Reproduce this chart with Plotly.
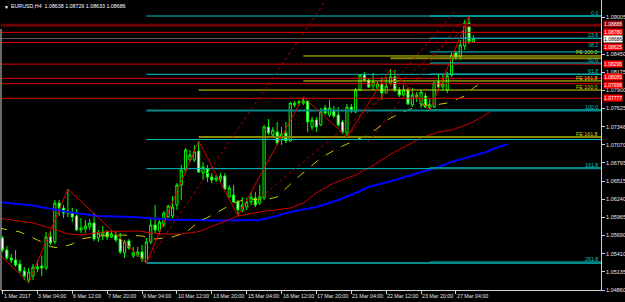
import plotly.graph_objects as go

# ---------------- data (EURUSD H4) ----------------
bars = list(range(109))
opens = [1.05651,1.05469,1.05347,1.05316,1.05255,1.05149,1.05012,1.05073,1.05179,1.05225,
         1.05194,1.05667,1.05591,1.06183,1.06107,1.06062,1.06031,1.05986,1.05773,1.05788,
         1.05818,1.05879,1.05651,1.05697,1.05743,1.05667,1.05697,1.05636,1.05423,1.05606,
         1.05378,1.05393,1.05439,1.05286,1.05591,1.05849,1.05758,1.05849,1.05971,1.05986,
         1.06153,1.06457,1.06685,1.06838,1.06838,1.06975,1.06639,1.06700,1.06579,1.06533,
         1.06548,1.06594,1.06275,1.06305,1.06199,1.06077,1.06122,1.06199,1.06259,1.06183,
         1.06259,1.07340,1.07218,1.07264,1.07142,1.07248,1.07127,1.07674,1.07704,1.07704,
         1.07735,1.07340,1.07446,1.07370,1.07629,1.07522,1.07598,1.07522,1.07416,1.07248,
         1.07644,1.07568,1.07902,1.08131,1.08055,1.07963,1.07933,1.07994,1.07856,1.08010,
         1.08101,1.07902,1.07826,1.07902,1.07674,1.07826,1.07689,1.07811,1.07629,1.07644,
         1.08025,1.07948,1.07902,1.08131,1.08466,1.08405,1.08572,1.08921,1.08638]
highs = [1.05682,1.05530,1.05408,1.05469,1.05316,1.05210,1.05194,1.05255,1.05316,1.05378,
         1.05743,1.05773,1.06229,1.06229,1.06153,1.06396,1.06107,1.06092,1.05955,1.05925,
         1.05940,1.06031,1.05773,1.05834,1.05773,1.05773,1.05743,1.05727,1.05621,1.05636,
         1.05514,1.05514,1.05545,1.05651,1.05940,1.06153,1.05925,1.06062,1.06153,1.06290,
         1.06487,1.06761,1.07020,1.06990,1.07066,1.07127,1.06808,1.06761,1.06639,1.06609,
         1.06639,1.06639,1.06457,1.06457,1.06229,1.06275,1.06259,1.06351,1.06351,1.06457,
         1.07370,1.07461,1.07340,1.07416,1.07340,1.07416,1.07720,1.07735,1.07750,1.07796,
         1.07750,1.07492,1.07492,1.07629,1.07674,1.07750,1.07659,1.07644,1.07446,1.07689,
         1.07689,1.07933,1.08146,1.08177,1.08086,1.08161,1.08025,1.08101,1.08101,1.08223,
         1.08207,1.07948,1.07979,1.07933,1.07933,1.07872,1.07902,1.07856,1.07765,1.08025,
         1.08131,1.08131,1.08177,1.08466,1.08496,1.08663,1.08967,1.09028,1.08729]
lows = [1.05439,1.05316,1.05270,1.05210,1.05118,1.05012,1.04966,1.05012,1.05134,1.05073,
        1.05164,1.05545,1.05560,1.05986,1.05955,1.05971,1.05895,1.05758,1.05727,1.05727,
        1.05773,1.05606,1.05591,1.05621,1.05621,1.05651,1.05591,1.05408,1.05347,1.05469,
        1.05347,1.05362,1.05286,1.05270,1.05560,1.05727,1.05712,1.05818,1.05955,1.05955,
        1.06077,1.06229,1.06639,1.06808,1.06808,1.06639,1.06533,1.06503,1.06487,1.06503,
        1.06487,1.06381,1.06259,1.06183,1.05986,1.06047,1.06077,1.06153,1.06122,1.06153,
        1.06229,1.07218,1.07188,1.07066,1.07066,1.07096,1.07112,1.07644,1.07659,1.07674,
        1.07264,1.07294,1.07264,1.07355,1.07522,1.07492,1.07477,1.07340,1.07233,1.07188,
        1.07553,1.07553,1.07887,1.08025,1.07933,1.07902,1.07902,1.07750,1.07841,1.07979,
        1.07872,1.07796,1.07796,1.07674,1.07644,1.07720,1.07629,1.07629,1.07598,1.07629,
        1.07902,1.07902,1.07856,1.08101,1.08359,1.08359,1.08511,1.08602,1.08633]
closes = [1.05469,1.05347,1.05316,1.05240,1.05149,1.05073,1.05134,1.05210,1.05210,1.05194,
          1.05667,1.05575,1.06183,1.06107,1.06031,1.06031,1.05971,1.05773,1.05803,1.05834,
          1.05879,1.05636,1.05727,1.05743,1.05667,1.05712,1.05621,1.05439,1.05591,1.05499,
          1.05423,1.05439,1.05332,1.05591,1.05849,1.05773,1.05895,1.06031,1.06138,1.06122,
          1.06457,1.06685,1.06990,1.06914,1.06960,1.06655,1.06731,1.06579,1.06533,1.06564,
          1.06594,1.06396,1.06411,1.06199,1.06077,1.06153,1.06199,1.06275,1.06153,1.06275,
          1.07340,1.07248,1.07294,1.07096,1.07233,1.07127,1.07704,1.07704,1.07720,1.07735,
          1.07416,1.07446,1.07340,1.07568,1.07553,1.07629,1.07507,1.07370,1.07264,1.07644,
          1.07583,1.07902,1.08131,1.08055,1.07948,1.08025,1.07994,1.07856,1.07963,1.08101,
          1.07902,1.07826,1.07902,1.07689,1.07826,1.07796,1.07872,1.07644,1.07674,1.08010,
          1.07948,1.07994,1.08116,1.08435,1.08405,1.08587,1.08922,1.08640,1.08686]

# x-axis time labels (every 8 bars)
xtick_idx = [0, 8, 16, 24, 32, 40, 48, 56, 64, 72, 80, 88, 96, 104]
xtick_text = ["1 Mar 2017", "3 Mar 04:00", "6 Mar 12:00", "7 Mar 20:00", "9 Mar 04:00",
              "10 Mar 12:00", "13 Mar 20:00", "15 Mar 04:00", "16 Mar 12:00", "17 Mar 20:00",
              "21 Mar 04:00", "22 Mar 12:00", "23 Mar 20:00", "27 Mar 04:00"]
# visible price-scale labels (1.08730 is hidden under the price tags in the reference)
ytick_vals = [1.09005, 1.08450, 1.08175, 1.07900, 1.07625, 1.07346, 1.07070,
              1.06795, 1.06515, 1.06240, 1.05965, 1.05690, 1.05410, 1.05135, 1.04860]

# moving averages (shifted forward, alligator-like)
blue_x = [-1, 7, 15, 22, 30, 38, 50, 59, 62, 66, 72, 77, 81, 84, 90, 96, 100, 103, 107, 111, 113, 116]
blue_y = [1.06199, 1.06145, 1.06047, 1.05986, 1.05971, 1.05933, 1.05917, 1.05925, 1.05971, 1.06047,
          1.06122, 1.06229, 1.06336, 1.06427, 1.06533, 1.06655, 1.06731, 1.06808, 1.06884, 1.06960,
          1.07020, 1.07081]
red_x = [-1, 7, 11, 15, 18, 24, 31, 36, 41, 45, 54, 59, 66, 69, 72, 76, 81, 84, 90, 96, 100, 103, 107, 110, 112]
red_y = [1.05955, 1.05879, 1.05803, 1.05712, 1.05697, 1.05750, 1.05758, 1.05712, 1.05712, 1.05748,
         1.05986, 1.06047, 1.06107, 1.06183, 1.06336, 1.06487, 1.06609, 1.06716, 1.06960, 1.07173,
         1.07264, 1.07294, 1.07386, 1.07492, 1.07583]
yel_x = [-1, 4, 8, 11, 13, 16, 18, 22, 27, 32, 35, 39, 42, 45, 49, 53, 56, 60, 63, 67, 70, 73, 77,
         81, 84, 89, 93, 96, 99, 102, 106, 108, 110]
yel_y = [1.05803, 1.05743, 1.05621, 1.05519, 1.05499, 1.05560, 1.05636, 1.05682, 1.05697, 1.05682,
         1.05636, 1.05667, 1.05733, 1.05895, 1.06031, 1.06183, 1.06244, 1.06229, 1.06275, 1.06533,
         1.06700, 1.06868, 1.07020, 1.07142, 1.07218, 1.07477, 1.07598, 1.07674, 1.07674, 1.07704,
         1.07811, 1.07933, 1.08025]

# zigzag pivots
zz_x = [-1, 6, 15, 33, 45, 54, 69, 79, 89, 98, 107]
zz_y = [1.05423, 1.04966, 1.06396, 1.05270, 1.07127, 1.05986, 1.07796, 1.07188, 1.08223, 1.07598, 1.09028]

# dotted trend lines (start/end bar, start/end price)
dot_lines = [((33, 75), (1.05270, 1.09348)),
             ((54, 107), (1.05986, 1.08891)),
             ((79, 104), (1.07188, 1.09119)),
             ((84, 105), (1.07112, 1.08937))]

# horizontal support / resistance lines and their price-label nudges (px)
sr_prices = [1.08888, 1.08780, 1.08625, 1.08296, 1.08080, 1.07998, 1.07777]
sr_label_shift = [1, 0, -4, 0, 1, -1, 0]
bid_price = 1.08686

# Fibonacci retracements
fib_long_start = 33
fib_long_levels = [1.09028, 1.08141, 1.07592, 1.07149, 1.06706, 1.05270]
fib_short_start = 98
fib_short_levels = [1.09028, 1.08691, 1.08482, 1.08313, 1.08144, 1.07598, 1.06714, 1.05284]
fib_short_text = ["0.0", "23.6", "38.2", "50.0", "61.8", "100.0", "161.8", "261.8"]
fib_label_shift = [-2, -2, 2, -2, -2, -2, -2, -2]

# Fibonacci expansions
fe_prices = [1.08420, 1.08385, 1.08040, 1.07902, 1.07188]
fe_start = [69, 89, 69, 45, 45]
fe_text = ["FE 100.0", "", "FE 161.8", "FE 100.0", "FE 161.8"]
fe_bright = [True, False, True, True, False]
fe_label_shift = [-1, 0, -2, -2, -2]

title_text = "EURUSD,H4  1.08638 1.08729 1.08633 1.08686"

# ---------------- figure ----------------
X_LEFT, X_RIGHT = -0.344, 137.27
Y_BOTTOM, Y_TOP = 1.04860, 1.092715
FONT = "Liberation Sans"
CYAN = "#00C4C4"
TEAL = "#008A8A"
YEL = "#D8D800"
OLIVE = "#8A8A00"

fig = go.Figure()

fig.add_trace(go.Candlestick(
    x=bars, open=opens, high=highs, low=lows, close=closes,
    increasing=dict(line=dict(color="#00FF00", width=1), fillcolor="#000000"),
    decreasing=dict(line=dict(color="#00FF00", width=1), fillcolor="#FFFFFF"),
    whiskerwidth=0, hoverinfo="skip", showlegend=False))


def line(xs, ys, color, width=1, dash="solid"):
    fig.add_trace(go.Scatter(x=xs, y=ys, mode="lines",
                             line=dict(color=color, width=width, dash=dash),
                             hoverinfo="skip", showlegend=False))


def hline(price, start, color, width=1):
    line([start, X_RIGHT + 1], [price, price], color, width)


# moving averages
line(blue_x, blue_y, "#0000FF", 2)
line(red_x, red_y, "#D00000", 1)
line(yel_x, yel_y, "#C8C800", 1, "dash")

# support/resistance lines
for k, p in enumerate(sr_prices):
    if k == 0:
        hline(p, X_LEFT - 1, "#6A0000", 3)
    else:
        hline(p, X_LEFT - 1, "#E00000", 1)
hline(bid_price, X_LEFT - 1, "#5A5A5A", 1)

# fib retracements
for k, p in enumerate(fib_long_levels):
    teal = k in (2, 5)
    hline(p, fib_long_start, TEAL if teal else CYAN, 2 if teal else 1)
for k, p in enumerate(fib_short_levels):
    teal = k in (5, 6, 7)
    hline(p, fib_short_start, TEAL if teal else CYAN, 2 if teal else 1)

# fib expansions
for p, s, b in zip(fe_prices, fe_start, fe_bright):
    hline(p, s, YEL if b else OLIVE, 1 if b else 2)

# zigzag and dotted lines
line(zz_x, zz_y, "#E00000", 1)
for (xs, ys) in dot_lines:
    line(list(xs), list(ys), "#B00000", 1, "dot")

ann = []
# x tick labels, left aligned at the tick
for xi, t in zip(xtick_idx, xtick_text):
    ann.append(dict(x=xi, y=0, xref="x", yref="paper", text=t, showarrow=False,
                    xanchor="left", yanchor="top", xshift=-1, yshift=-1,
                    font=dict(family=FONT, size=5.3, color="#E8E8E8")))
# fib labels
for p, t, sh in zip(fib_short_levels, fib_short_text, fib_label_shift):
    ann.append(dict(x=1, y=p, xref="paper", yref="y", text=t, showarrow=False,
                    xanchor="right", yanchor="bottom", xshift=-1, yshift=sh,
                    font=dict(family=FONT, size=5.3, color=CYAN)))
for p, t, sh in zip(fe_prices, fe_text, fe_label_shift):
    if t:
        ann.append(dict(x=1, y=p, xref="paper", yref="y", text=t, showarrow=False,
                        xanchor="right", yanchor="bottom", xshift=-1, yshift=sh,
                        font=dict(family=FONT, size=5.3, color=YEL)))
# price labels on the right axis
for k, (p, sh) in enumerate(zip(sr_prices, sr_label_shift)):
    ann.append(dict(x=1, y=p, xref="paper", yref="y", text=f"{p:.5f}", showarrow=False,
                    xanchor="left", yanchor="middle", xshift=2, yshift=sh,
                    bgcolor="#9A0000" if k == 0 else "#FF0000", borderpad=0,
                    font=dict(family=FONT, size=5, color="#FFFFFF")))
ann.append(dict(x=1, y=bid_price, xref="paper", yref="y", text=f"{bid_price:.5f}",
                showarrow=False, xanchor="left", yanchor="middle", xshift=2, yshift=-1,
                bgcolor="#FFFFFF", borderpad=0,
                font=dict(family=FONT, size=5, color="#000000")))
# title
ann.append(dict(x=0, y=1, xref="paper", yref="paper", text="▼", showarrow=False,
                xanchor="left", yanchor="top", xshift=1, yshift=-2,
                font=dict(family=FONT, size=5, color="#FFFFFF")))
ann.append(dict(x=0, y=1, xref="paper", yref="paper", text=title_text, showarrow=False,
                xanchor="left", yanchor="top", xshift=8, yshift=-1,
                font=dict(family=FONT, size=5.3, color="#FFFFFF")))

fig.update_layout(
    width=625, height=302,
    margin=dict(l=1, r=24, t=0, b=12, pad=0),
    paper_bgcolor="#000000", plot_bgcolor="#000000",
    showlegend=False, hovermode=False,
    annotations=ann,
    shapes=[dict(type="line", xref="paper", yref="paper", x0=0, x1=0, y0=0, y1=0.9,
                 line=dict(color="#D0D0D0", width=1))],
    xaxis=dict(range=[X_LEFT, X_RIGHT], showgrid=False, zeroline=False,
               showline=True, linecolor="#D0D0D0", linewidth=1,
               ticks="outside", ticklen=3, tickcolor="#D0D0D0",
               tickvals=xtick_idx, showticklabels=False,
               rangeslider=dict(visible=False), fixedrange=True),
    yaxis=dict(range=[Y_BOTTOM, Y_TOP], side="right", showgrid=False, zeroline=False,
               showline=True, linecolor="#D0D0D0", linewidth=1,
               ticks="outside", ticklen=3, tickcolor="#D0D0D0",
               tickvals=ytick_vals, ticktext=[f"{v:.5f}" for v in ytick_vals],
               tickfont=dict(family=FONT, size=5.5, color="#E8E8E8"), fixedrange=True),
)

fig.write_html("out.html")
